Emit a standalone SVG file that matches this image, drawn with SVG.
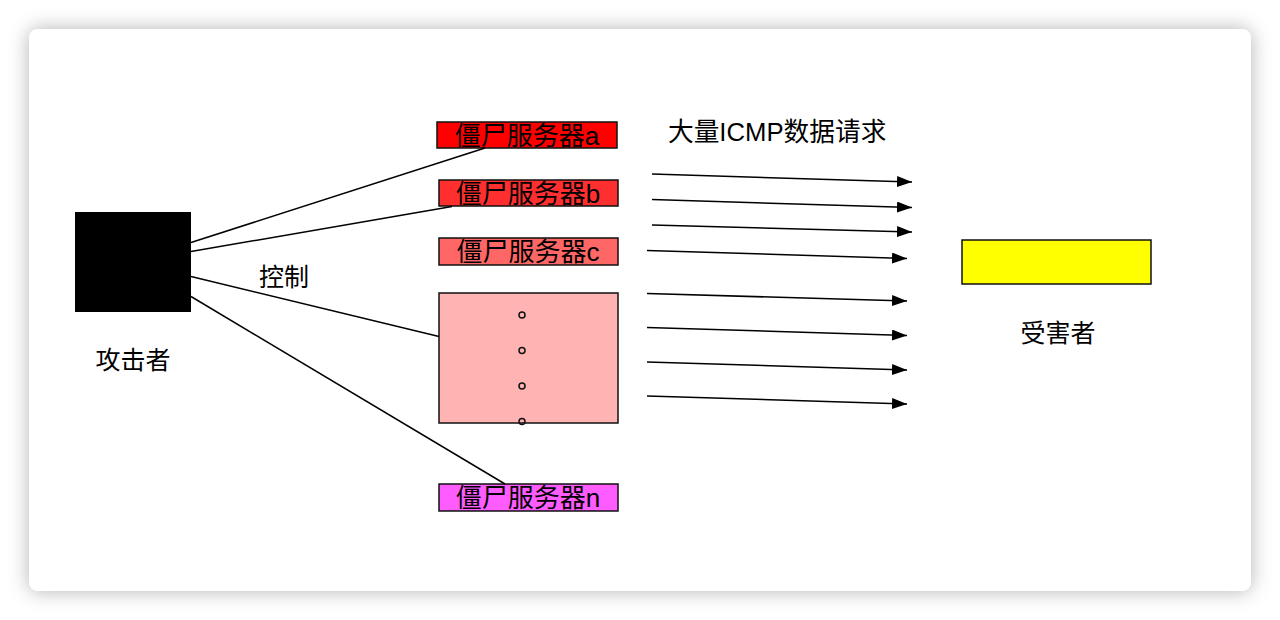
<svg xmlns="http://www.w3.org/2000/svg" width="1280" height="620" viewBox="0 0 1280 620">
<defs>
<filter id="shadow" x="-10%" y="-10%" width="120%" height="120%">
<feDropShadow dx="0" dy="0" stdDeviation="10" flood-color="#000" flood-opacity="0.3"/>
</filter>
<marker id="arr" viewBox="0 0 15 11" refX="15" refY="5.5" markerWidth="15" markerHeight="11" markerUnits="userSpaceOnUse" orient="auto">
<path d="M0,0 L15,5.5 L0,11 Z" fill="#000"/>
</marker>
<style>
text{font-family:"Liberation Sans","Noto Sans CJK SC",sans-serif;fill:#000;}
.lbl{font-size:25px;text-anchor:middle;}
.srv{font-size:26px;text-anchor:middle;}
.box{stroke:#111;stroke-width:1.5;}
.ln{stroke:#000;stroke-width:1.5;fill:none;}
.ar{stroke:#000;stroke-width:1.5;fill:none;marker-end:url(#arr);}
.dot{fill:none;stroke:#111;stroke-width:1.5;}
</style>
</defs>
<rect width="1280" height="620" fill="#fff"/>
<rect x="29" y="29" width="1222" height="562" rx="9" fill="#fff" filter="url(#shadow)"/>

<g id="attacker">
<rect x="75" y="212" width="116" height="100" fill="#000"/>
<text class="lbl" x="133" y="368.5">攻击者</text>
</g>

<g id="control-label">
<text class="lbl" x="284" y="286">控制</text>
</g>

<g id="zombie-a">
<rect class="box" x="437" y="122" width="180" height="26" fill="#FF0000"/>
<text class="srv" x="527" y="144.5">僵尸服务器a</text>
</g>
<g id="zombie-b">
<rect class="box" x="439" y="180" width="179" height="26" fill="#FF2F2F"/>
<text class="srv" x="528" y="202.5">僵尸服务器b</text>
</g>
<g id="zombie-c">
<rect class="box" x="439" y="238" width="179" height="27" fill="#FF6666"/>
<text class="srv" x="528" y="261">僵尸服务器c</text>
</g>
<g id="zombie-more">
<rect class="box" x="439" y="293" width="179" height="130" fill="#FFB3B3"/>
<circle class="dot" cx="522" cy="315" r="3"/>
<circle class="dot" cx="522" cy="350.5" r="3"/>
<circle class="dot" cx="522" cy="386" r="3"/>
<circle class="dot" cx="522" cy="421.5" r="3"/>
</g>
<g id="zombie-n">
<rect class="box" x="439" y="484" width="179" height="27" fill="#FF5CFF"/>
<text class="srv" x="528" y="507">僵尸服务器n</text>
</g>

<g id="victim">
<rect class="box" x="962" y="240" width="189" height="44" fill="#FFFF00"/>
<text class="lbl" x="1058" y="341.5">受害者</text>
</g>

<g id="icmp-label">
<text x="668" y="141" style="font-size:25.7px">大量ICMP数据请求</text>
</g>

<g id="connectors">
<line class="ln" x1="191" y1="242.5" x2="485" y2="148"/>
<line class="ln" x1="191" y1="251.5" x2="452" y2="206.5"/>
<line class="ln" x1="191" y1="276.5" x2="439" y2="336.5"/>
<line class="ln" x1="191" y1="296.5" x2="505" y2="484"/>
<line class="ar" x1="652" y1="174" x2="912" y2="182"/>
<line class="ar" x1="652" y1="199.5" x2="912" y2="207.5"/>
<line class="ar" x1="652" y1="225" x2="912" y2="232"/>
<line class="ar" x1="647" y1="250.5" x2="907" y2="258.5"/>
<line class="ar" x1="647" y1="293.5" x2="907" y2="301"/>
<line class="ar" x1="647" y1="327.5" x2="907" y2="335.5"/>
<line class="ar" x1="647" y1="362" x2="907" y2="370"/>
<line class="ar" x1="647" y1="396" x2="907" y2="404"/>
</g>
</svg>
